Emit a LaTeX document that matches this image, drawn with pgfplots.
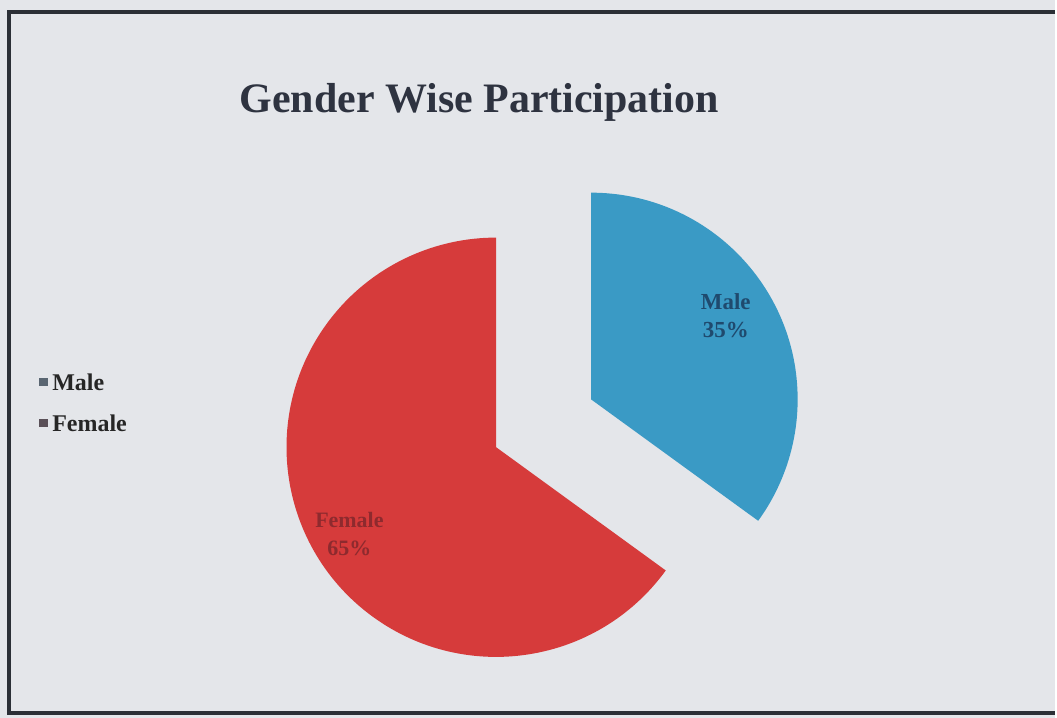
\documentclass[border=0pt]{standalone}
\usepackage{pgfplots}
\pgfplotsset{compat=1.18}
\usepackage{fontspec}
\setmainfont{Liberation Serif}
\definecolor{bg}{HTML}{E4E6EA}
\definecolor{framec}{HTML}{2B2F36}
\definecolor{maleblue}{HTML}{3A9AC5}
\definecolor{femred}{HTML}{D63B3B}
\definecolor{titlec}{HTML}{2E3340}
\definecolor{malelab}{HTML}{1F4A6E}
\definecolor{femlab}{HTML}{8E2A2E}
\definecolor{legm}{HTML}{5A6672}
\definecolor{legf}{HTML}{5A5058}
\begin{document}
\begin{tikzpicture}
\begin{axis}[scale only axis, width=528.5pt, height=359.5pt,
  xmin=0, xmax=1057, ymin=0, ymax=719, hide axis, clip=false]
% values (percent)
\pgfmathsetmacro{\maleval}{35}
\pgfmathsetmacro{\femval}{65}
\pgfmathsetmacro{\maleend}{90-3.6*\maleval}
\pgfmathsetmacro{\femend}{\maleend-3.6*\femval}
\pgfmathsetmacro{\R}{207}
\fill[bg] (axis cs:0,0) rectangle (axis cs:1057,719);
\draw[framec, line width=1.8pt] (axis cs:1057,707) -- (axis cs:9,707) -- (axis cs:9,5) -- (axis cs:1057,5);
% title
\node[font=\bfseries\fontsize{21}{24}\selectfont, text=titlec] at (axis cs:480,616) {Gender Wise Participation};
% male slice (exploded)
\pgfmathsetmacro{\mx}{592}\pgfmathsetmacro{\my}{319}
\fill[maleblue] (axis cs:\mx,\my) -- (axis cs:\mx,\my+\R) arc[start angle=90, end angle=\maleend, radius=\R] -- cycle;
% female slice
\pgfmathsetmacro{\Rf}{210}
\pgfmathsetmacro{\fx}{497}\pgfmathsetmacro{\fy}{271}
\pgfmathsetmacro{\fsx}{\fx+\Rf*cos(\maleend)}
\pgfmathsetmacro{\fsy}{\fy+\Rf*sin(\maleend)}
\fill[femred] (axis cs:\fx,\fy) -- (axis cs:\fsx,\fsy) arc[start angle=\maleend, end angle=\femend, radius=\Rf] -- cycle;
% labels
\node[font=\bfseries\fontsize{11.5}{14}\selectfont, text=malelab, align=center] at (axis cs:727,403) {Male\\35\%};
\node[font=\bfseries\fontsize{11}{14}\selectfont, text=femlab, align=center] at (axis cs:350,184) {Female\\65\%};
% legend
\fill[legm] (axis cs:39,332) rectangle (axis cs:48,340);
\node[anchor=west, font=\bfseries\fontsize{12}{14}\selectfont, text=black!85, inner sep=0pt] at (axis cs:52,336) {Male};
\fill[legf] (axis cs:39,291) rectangle (axis cs:48,299);
\node[anchor=west, font=\bfseries\fontsize{12}{14}\selectfont, text=black!85, inner sep=0pt] at (axis cs:52,295) {Female};
\end{axis}
\end{tikzpicture}
\end{document}
